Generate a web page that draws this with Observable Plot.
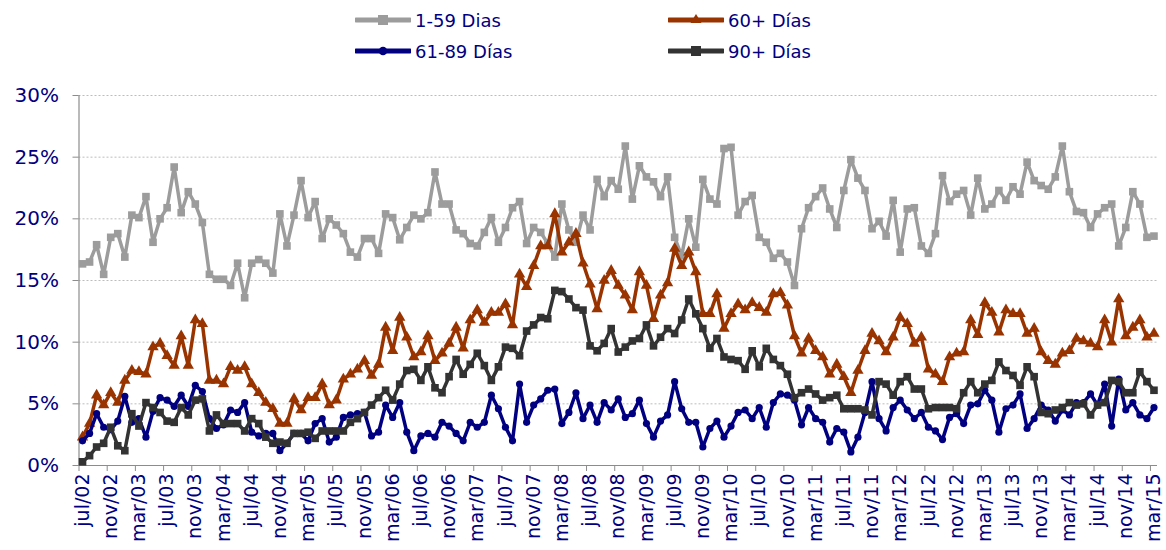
<!DOCTYPE html>
<html><head><meta charset="utf-8">
<script src="https://cdn.jsdelivr.net/npm/d3@7"></script>
<script src="https://cdn.jsdelivr.net/npm/@observablehq/plot@0.6"></script>
<style>
body{margin:0;background:#fff;font-family:"DejaVu Sans",Verdana,sans-serif;}
#legend{position:relative;height:75px;width:1166px;}
.item{position:absolute;display:flex;align-items:center;font-size:18px;color:#000080;white-space:nowrap;}
.item svg{margin-right:4px;}
</style></head><body>
<div id="legend"></div>
<div id="chart"></div>
<script>
// x-axis tick labels (one every 4 months, Jul 2002 .. Mar 2015)
const tickLabels = ["jul/02","nov/02","mar/03","jul/03","nov/03","mar/04","jul/04","nov/04","mar/05","jul/05","nov/05","mar/06","jul/06","nov/06","mar/07","jul/07","nov/07","mar/08","jul/08","nov/08","mar/09","jul/09","nov/09","mar/10","jul/10","nov/10","mar/11","jul/11","nov/11","mar/12","jul/12","nov/12","mar/13","jul/13","nov/13","mar/14","jul/14","nov/14","mar/15"];
const yTicks = [0,5,10,15,20,25,30];
const seriesNames = ["1-59 Dias","60+ Días","61-89 Días","90+ Días"];

// monthly values (%), Jul 2002 .. Mar 2015
const dias1_59 = [
16.35,16.5,17.9,15.5,18.5,18.8,16.9,20.3,20.1,21.8,
18.1,20.0,20.9,24.2,20.5,22.2,21.2,19.7,15.5,15.1,
15.1,14.6,16.4,13.6,16.4,16.7,16.4,15.6,20.4,17.8,
20.3,23.1,20.1,21.4,18.4,20.0,19.5,18.8,17.3,16.9,
18.4,18.4,17.2,20.4,20.1,18.3,19.3,20.3,20.0,20.5,
23.8,21.2,21.2,19.1,18.8,18.0,17.8,18.9,20.1,18.1,
19.3,20.9,21.4,18.0,19.3,18.9,18.0,16.9,21.2,19.1,
18.1,20.3,19.1,23.2,21.8,23.1,22.4,25.9,21.6,24.3,
23.4,23.0,21.8,23.4,18.5,17.0,20.0,17.7,23.2,21.6,
21.2,25.7,25.8,20.3,21.4,21.9,18.5,18.1,16.8,17.2,
16.5,14.6,19.2,20.9,21.8,22.5,20.8,19.3,22.3,24.8,
23.3,22.3,19.2,19.8,18.6,21.5,17.3,20.8,20.9,17.8,
17.2,18.8,23.5,21.4,22.0,22.3,20.3,23.3,20.8,21.2,
22.3,21.5,22.6,22.0,24.6,23.1,22.7,22.4,23.4,25.9,
22.2,20.6,20.5,19.3,20.4,20.9,21.2,17.8,19.3,22.2,
21.2,18.5,18.6];
const dias60plus = [
2.3,3.4,5.7,4.9,5.9,5.1,6.9,7.7,7.6,7.4,
9.6,9.9,8.9,8.1,10.5,8.1,11.8,11.5,6.9,6.9,
6.6,8.0,7.7,8.0,6.6,5.9,5.1,4.6,3.4,3.4,
5.4,4.5,5.5,5.5,6.6,4.9,5.3,7.0,7.4,7.8,
8.5,7.3,8.2,11.2,9.3,12.0,10.4,8.8,9.2,10.5,
8.5,9.1,9.9,11.2,9.5,11.8,12.6,11.6,12.4,12.4,
13.1,11.4,15.5,14.5,16.2,17.8,17.8,20.4,17.3,18.1,
18.8,16.4,14.7,12.7,15.0,15.8,14.6,13.8,12.6,15.7,
14.6,11.9,13.8,14.8,17.6,16.2,17.3,15.7,12.3,12.3,
13.9,11.1,12.3,13.1,12.6,13.2,12.8,12.4,13.9,14.0,
13.0,10.5,9.1,10.3,9.3,8.8,7.4,8.2,7.2,5.9,
7.7,9.3,10.7,10.1,9.2,10.4,12.0,11.5,9.9,10.4,
7.8,7.4,6.8,8.8,9.1,9.2,11.8,10.6,13.2,12.4,
10.8,12.6,12.3,12.3,10.7,11.1,9.2,8.5,8.2,9.1,
9.3,10.3,10.1,9.9,9.6,11.8,10.0,13.5,10.5,11.2,
11.8,10.4,10.7];
const dias61_89 = [
2.0,2.6,4.2,3.1,2.9,3.6,5.6,3.5,3.8,2.3,
4.4,5.5,5.3,4.8,5.7,4.8,6.5,6.0,3.8,3.0,
3.3,4.5,4.3,5.1,2.7,2.4,2.6,2.6,1.2,1.8,
2.6,2.6,2.0,3.4,3.8,1.9,2.3,3.9,4.1,4.2,
4.3,2.4,2.7,4.9,3.9,5.1,2.7,1.2,2.4,2.6,
2.3,3.5,3.2,2.6,2.0,3.5,3.1,3.5,5.7,4.6,
3.1,2.0,6.6,3.5,4.9,5.4,6.1,6.2,3.4,4.3,
5.9,3.8,4.9,3.5,5.1,4.5,5.4,3.9,4.2,5.3,
3.4,2.3,3.6,4.1,6.8,4.6,3.5,3.5,1.5,3.0,
3.6,2.3,3.2,4.3,4.5,3.8,4.7,3.1,5.1,5.8,
5.7,5.3,3.3,4.7,3.8,3.5,1.9,3.0,2.7,1.1,
2.3,4.3,6.8,3.8,2.8,4.7,5.3,4.5,3.8,4.3,
3.1,2.8,2.1,3.9,4.2,3.4,4.9,5.0,6.1,5.3,
2.7,4.6,4.9,5.8,3.0,3.8,4.9,4.5,3.6,4.5,
4.1,5.1,5.1,5.8,4.9,6.6,3.2,7.0,4.5,5.1,
4.1,3.8,4.7];
const dias90plus = [
0.3,0.8,1.5,1.8,3.1,1.6,1.2,4.2,3.2,5.1,
4.7,4.3,3.6,3.5,4.7,4.1,5.3,5.4,2.8,4.1,
3.4,3.4,3.4,2.8,3.8,3.4,2.3,1.8,1.9,1.8,
2.6,2.6,2.7,2.2,2.8,2.8,2.8,2.8,3.5,3.8,
4.3,4.9,5.5,6.1,5.3,6.6,7.7,7.8,6.9,8.0,
6.3,5.9,7.2,8.6,7.4,8.2,9.1,8.1,6.9,8.0,
9.6,9.5,8.9,10.9,11.4,12.0,11.9,14.2,14.1,13.5,
12.8,12.6,9.7,9.3,9.9,11.1,9.2,9.6,10.1,10.3,
11.4,9.7,10.4,11.1,10.7,11.8,13.5,12.3,11.1,9.5,
10.3,8.8,8.6,8.5,7.8,9.3,8.0,9.5,8.6,8.1,
7.4,5.5,5.9,6.2,5.8,5.3,5.5,5.7,4.6,4.6,
4.6,4.5,4.1,6.8,6.6,5.7,6.8,7.2,6.2,6.2,
4.6,4.7,4.7,4.7,4.6,5.9,6.8,5.9,6.6,6.9,
8.4,7.7,7.3,6.5,8.0,7.2,4.3,4.2,4.5,4.7,
5.1,4.9,5.0,4.1,4.9,5.1,6.9,6.8,5.9,5.9,
7.6,6.8,6.1];

const seriesValues = [dias1_59, dias60plus, dias61_89, dias90plus];
const colors = ["#9c9c9c", "#993300", "#000080", "#333333"];
const symbols = ["square", "triangle", "circle", "square"];
const radii = [4.3, 4.2, 3.6, 4.3];
const navy = "#000080";

// Legend (HTML, above the SVG)
const legendPos = [[355, 8], [668, 8], [355, 39], [668, 39]];
const legend = document.getElementById("legend");
seriesNames.forEach((name, k) => {
  const div = document.createElement("div");
  div.className = "item";
  div.style.left = legendPos[k][0] + "px";
  div.style.top = legendPos[k][1] + "px";
  let mk;
  if (symbols[k] === "square") mk = `<rect x="23" y="7" width="10" height="10" fill="${colors[k]}"/>`;
  else if (symbols[k] === "triangle") mk = `<path d="M28,6 L33.5,15 L22.5,15 Z" fill="${colors[k]}"/>`;
  else mk = `<circle cx="28" cy="12" r="4.3" fill="${colors[k]}"/>`;
  div.innerHTML = `<svg width="56" height="24"><line x1="1" y1="12" x2="55" y2="12" stroke="${colors[k]}" stroke-width="5" stroke-linecap="round"/>${mk}</svg><span>${name}</span>`;
  legend.appendChild(div);
});

const rows = [];
seriesValues.forEach((vals, k) => vals.forEach((v, i) => rows.push({i, v, k})));
const tickIdx = tickLabels.map((_, j) => j * 4);
const tickBounds = tickIdx.map(i => i - 0.5);

const seriesMarks = seriesValues.flatMap((vals, k) => {
  const d = rows.filter(r => r.k === k);
  return [
    Plot.line(d, {x: "i", y: "v", stroke: colors[k], strokeWidth: 3.5, strokeLinejoin: "round"}),
    Plot.dot(d, {x: "i", y: "v", symbol: symbols[k], r: radii[k], fill: colors[k], stroke: null})
  ];
});

const chart = Plot.plot({
  width: 1166,
  height: 475,
  marginLeft: 78.5,
  marginRight: 9,
  marginTop: 20,
  marginBottom: 85,
  style: {fontFamily: "DejaVu Sans, Verdana, sans-serif", fontSize: "20px", background: "#fff", overflow: "visible"},
  x: {type: "linear", domain: [-0.5, 152.5]},
  y: {domain: [0, 30]},
  marks: [
    Plot.gridY(yTicks.filter(d => d > 0), {stroke: "#bdbdbd", strokeOpacity: 1, strokeDasharray: "2,2"}),
    Plot.ruleX([-0.5], {stroke: "#8c8c8c", strokeWidth: 1.2}),
    Plot.axisY(yTicks, {tickSize: 6, tickFormat: () => "", stroke: "#8c8c8c", label: null}),
    Plot.axisY(yTicks, {tickSize: 0, tickPadding: 20, tickFormat: d => d + "%", fill: navy, fontSize: 20, label: null}),
    Plot.axisX(tickBounds, {tickSize: 6, tickFormat: () => "", stroke: "#8c8c8c", label: null}),
    Plot.axisX(tickIdx, {tickSize: 0, tickPadding: 8, tickRotate: -90, tickFormat: d => tickLabels[d / 4], fill: navy, fontSize: 19, label: null}),
    Plot.ruleY([0], {stroke: "#8c8c8c", strokeWidth: 1.2}),
    ...seriesMarks
  ]
});
document.getElementById("chart").appendChild(chart);
</script>
</body></html>
